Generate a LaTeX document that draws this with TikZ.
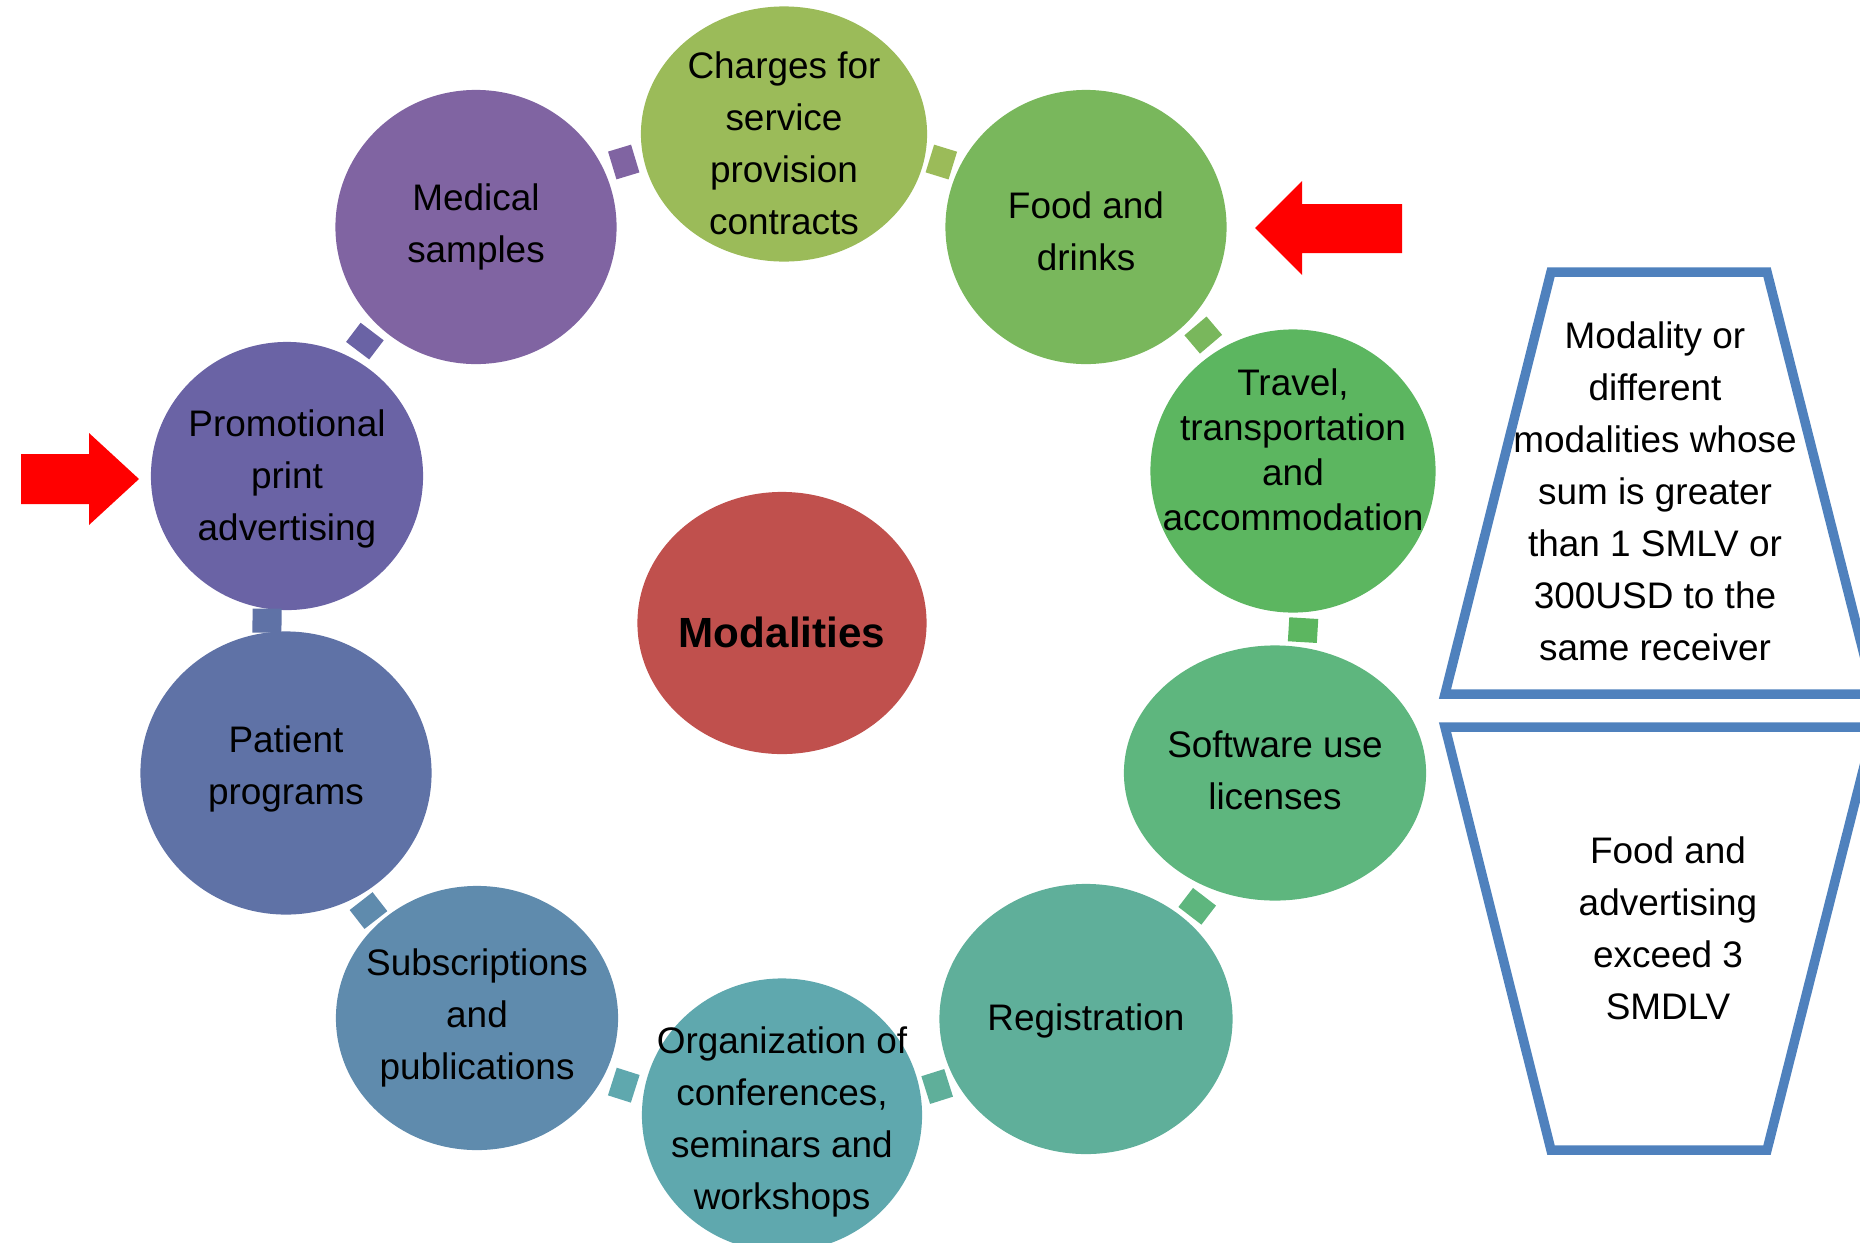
\documentclass[tikz,border=0pt]{standalone}
\usepackage{fontspec}
\setmainfont{Liberation Sans}
\usetikzlibrary{shapes.geometric}

\definecolor{chgc}{HTML}{9BBB59}
\definecolor{foodc}{HTML}{79B75C}
\definecolor{travc}{HTML}{5CB660}
\definecolor{softc}{HTML}{5EB67E}
\definecolor{regc}{HTML}{5FAF9A}
\definecolor{orgc}{HTML}{5FA8AE}
\definecolor{subsc}{HTML}{5F8BAD}
\definecolor{patc}{HTML}{5F72A6}
\definecolor{promc}{HTML}{6A63A5}
\definecolor{medc}{HTML}{8064A2}
\definecolor{modc}{HTML}{C0504D}
\definecolor{frameblue}{HTML}{4F81BD}

\begin{document}
\begin{tikzpicture}[x=0.01cm,y=-0.01cm,
  disc/.style={ellipse, fill=#1, inner sep=0pt},
  caption/.style={align=center, inner sep=0pt, font=\fontsize{10.5}{14.8}\selectfont},
  link/.style={sloped, allow upside down, anchor=south, outer sep=0.05cm,
    fill=#1, inner sep=0pt, minimum width=0.24cm, minimum height=0.29cm},
  frame/.style={draw=frameblue, line width=2.7pt},
  pointer/.style={fill=red}]
\useasboundingbox (0,0) rectangle (1860,1242);

% ring of modalities
\node [disc=chgc, minimum width=2.86cm, minimum height=2.55cm] (chg) at (784,134) {};
\node [disc=foodc, minimum width=2.81cm, minimum height=2.74cm] (food) at (1086,227) {};
\node [disc=travc, minimum width=2.85cm, minimum height=2.83cm] (trav) at (1293,471) {};
\node [disc=softc, minimum width=3.02cm, minimum height=2.55cm] (soft) at (1275,773) {};
\node [disc=regc, minimum width=2.93cm, minimum height=2.70cm] (reg) at (1086,1019) {};
\node [disc=orgc, minimum width=2.80cm, minimum height=2.73cm] (org) at (782,1115) {};
\node [disc=subsc, minimum width=2.82cm, minimum height=2.64cm] (subs) at (477,1018) {};
\node [disc=patc, minimum width=2.91cm, minimum height=2.83cm] (pat) at (286,773) {};
\node [disc=promc, minimum width=2.72cm, minimum height=2.68cm] (prom) at (287,476) {};
\node [disc=medc, minimum width=2.81cm, minimum height=2.74cm] (med) at (476,227) {};

% centre
\node [disc=modc, minimum width=2.89cm, minimum height=2.62cm] (mod) at (782,623) {};

% texts
\node [caption, yshift=-0.09cm] (chg-t) at (chg) {Charges for\\service\\provision\\contracts};
\node [caption, yshift=-0.04cm] (food-t) at (food) {Food and\\drinks};
\node [caption, yshift=0.21cm, font=\fontsize{10.5}{12.8}\selectfont] (trav-t) at (trav) {Travel,\\transportation\\and\\accommodation};
\node [caption, yshift=0.03cm] (soft-t) at (soft) {Software use\\licenses};
\node [caption, yshift=-0.02cm] (reg-t) at (reg) {Registration};
\node [caption, yshift=-0.07cm] (org-t) at (org) {Organization of\\conferences,\\seminars and\\workshops};
\node [caption] (subs-t) at (subs) {Subscriptions\\and\\publications};
\node [caption, yshift=0.04cm] (pat-t) at (pat) {Patient\\programs};
\node [caption, yshift=-0.03cm] (prom-t) at (prom) {Promotional\\print\\advertising};
\node [caption] (med-t) at (med) {Medical\\samples};
\node [caption, yshift=-0.09cm, font=\bfseries\fontsize{12}{14}\selectfont] (mod-t) at (mod) {Modalities};

% little links between the discs
\path (med) -- node [link=medc] {} (chg);
\path (chg) -- node [link=chgc] {} (food);
\path (food) -- node [link=foodc] {} (trav);
\path (trav) -- node [link=travc] {} (soft);
\path (soft) -- node [link=softc] {} (reg);
\path (reg) -- node [link=regc] {} (org);
\path (org) -- node [link=orgc] {} (subs);
\path (subs) -- node [link=subsc] {} (pat);
\path (pat) -- node [link=patc] {} (prom);
\path (prom) -- node [link=promc] {} (med);

% red arrows
\fill [pointer] (21,454) -- (89,454) -- (89,433) -- (139,479) -- (89,525) -- (89,504) -- (21,504) -- cycle;
\fill [pointer] (1402,204) -- (1302,204) -- (1302,181) -- (1255,228) -- (1302,275) -- (1302,253) -- (1402,253) -- cycle;

% thresholds
\draw [frame] (1551,272) -- (1767,272) -- (1874,694) -- (1445,694) -- cycle;
\node [caption] (rule1) at (1655,491) {Modality or\\different\\modalities whose\\sum is greater\\than 1 SMLV or\\300USD to the\\same receiver};
\draw [frame] (1445,727) -- (1874,727) -- (1767,1150) -- (1551,1150) -- cycle;
\node [caption] (rule2) at (1668,928) {Food and\\advertising\\exceed 3\\SMDLV};
\end{tikzpicture}
\end{document}
